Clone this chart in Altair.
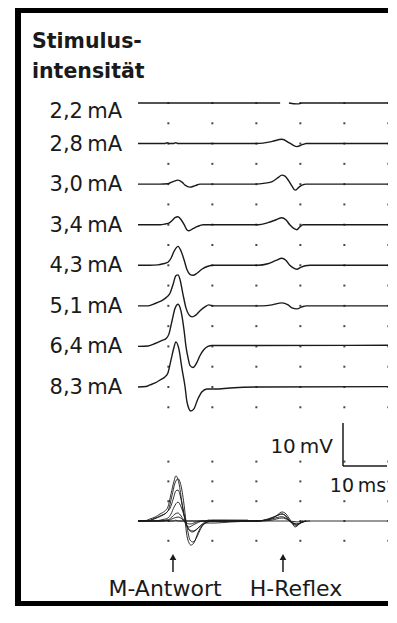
import altair as alt
import pandas as pd

# ---------------- data (ms, mV) ----------------
LABELS = ["2,2\u2009mA", "2,8\u2009mA", "3,0\u2009mA", "3,4\u2009mA",
          "4,3\u2009mA", "5,1\u2009mA", "6,4\u2009mA", "8,3\u2009mA"]

T_22 = [0, 32.3, 34.3, 36.1, 36.6, 37.3, 60]
V_22 = [0, 0, 0, -0.2, -0.2, 0, 0]
GAP_22 = (32.3, 34.3)

T_28 = [0, 6.1, 6.6, 7.0, 8.0, 8.6, 9.1, 27.0, 28.4, 30.5, 32.7, 34.5, 36.1, 37.5, 38.2, 60]
V_28 = [0, 0, 0.2, 0, 0, 0.2, 0, 0, 0.1, 0.5, 1.0, 0.1, -0.7, -0.2, 0, 0]

T_30 = [0, 5.0, 6.8, 8.0, 9.1, 10.0, 10.7, 11.8, 13.0, 14.1, 26.6, 28.9, 30.5, 31.8,
        32.7, 33.4, 34.3, 35.0, 35.7, 36.6, 37.3, 38.2, 60]
V_30 = [0, 0, 0.1, 0.6, 0.93, 0.47, -0.23, -0.7, -0.35, 0, 0, 0.23, 0.58, 1.5,
        2.1, 1.86, 0.7, -0.47, -1.4, -0.7, -0.23, 0, 0]

T_34 = [0, 5.0, 6.4, 7.0, 7.7, 8.4, 9.1, 9.8, 10.5, 11.1, 11.6, 12.5, 13.4, 14.8,
        27.3, 29.5, 31.4, 32.7, 33.6, 34.5, 35.5, 36.1, 36.8, 37.5, 60]
V_34 = [0, 0, 0.23, 0.35, 0.93, 1.63, 1.86, 1.16, 0, -1.16, -1.4, -0.93, -0.47, 0,
        0, 0.47, 1.16, 1.63, 1.16, 0, -0.93, -1.16, -0.47, 0, 0]

T_43 = [0, 2.7, 4.5, 5.7, 6.8, 7.5, 8.2, 9.1, 9.8, 10.5, 11.1, 11.8, 12.5, 13.4, 14.5,
        15.9, 17.0, 27.3, 29.5, 31.4, 32.7, 33.6, 34.5, 35.5, 36.1, 37.0, 38.0, 39.1, 60]
V_43 = [0, 0, 0.1, 0.35, 0.7, 1.63, 3.26, 4.4, 3.26, 1.16, -0.93, -2.1, -2.33, -1.86, -0.93,
        -0.23, 0, 0, 0.35, 1.16, 1.63, 1.16, 0, -0.7, -0.93, -0.47, -0.1, 0, 0]

T_51 = [0, 2.3, 3.4, 4.5, 5.7, 6.6, 7.3, 8.0, 8.6, 9.1, 9.5, 10.2, 10.9, 11.6, 12.3,
        13.2, 14.1, 15.2, 16.1, 17.0, 28.2, 30.5, 32.7, 34.1, 35.0, 36.1, 37.3, 38.2, 60]
V_51 = [0, 0, 0.35, 0.81, 1.4, 2.1, 3.0, 5.1, 7.0, 7.2, 6.3, 2.8, -0.47, -2.1, -2.56,
        -2.1, -1.16, -0.23, 0.23, 0, 0, 0.23, 0.7, 0.23, -0.47, -0.7, -0.23, 0, 0]

T_64 = [0, 2.3, 3.4, 4.5, 5.5, 6.4, 7.0, 7.7, 8.4, 9.1, 9.8, 10.5, 10.9, 11.4, 11.8,
        12.5, 13.4, 14.1, 15.0, 15.9, 16.8, 18.6, 25, 60]
V_64 = [0, 0.1, 0.47, 0.93, 1.4, 1.86, 2.8, 5.8, 8.8, 9.8, 8.1, 3.5, 0, -2.8, -4.4,
        -4.9, -3.7, -2.1, -0.7, 0, 0.23, 0.23, 0.2, 0.3]

T_83 = [0, 1.8, 2.7, 3.9, 5.0, 6.1, 6.8, 7.5, 8.2, 8.6, 9.3, 10.0, 10.7, 11.1, 11.6,
        12.0, 12.7, 13.6, 14.5, 15.7, 17.5, 20.9, 27.7, 60]
V_83 = [0, 0.1, 0.47, 0.93, 1.63, 2.33, 3.26, 6.3, 9.3, 10.5, 8.8, 4.2, 0, -3.3, -5.1,
        -5.6, -5.1, -2.8, -1.16, -0.47, -0.47, -0.23, 0, 0.1]

TRACES_T = [T_22, T_28, T_30, T_34, T_43, T_51, T_64, T_83]
TRACES_V = [V_22, V_28, V_30, V_34, V_43, V_51, V_64, V_83]

GRID_T = [6.9, 16.9, 26.9, 36.9, 46.9, 56.9]          # dot columns (ms)
ARROW_T = [7.95, 32.95]                               # M-Antwort, H-Reflex
ARROW_TEXT = ["M-Antwort", "H-Reflex"]
SCALE_MS = 10
SCALE_MV = 10

# ---------------- layout ----------------
W, H = 380, 598
PX_PER_MS, PX_PER_MV = 4.4, 4.3
X0_PX, Y0_PX = 130, 95          # chart position of t=0 and top trace baseline
SPACING_MV = 40.57 / PX_PER_MV  # distance between stacked traces
OVERLAY_MV = -(513 - Y0_PX) / PX_PER_MV
HALF = SPACING_MV / 2
BOTTOM_ROWS = [3, 2, 1, 0, -1]
BOTTOM_STEP = 19.8 / PX_PER_MV
SCALE_T0 = (335 - X0_PX) / PX_PER_MS
SCALE_Y0 = -(415 - Y0_PX) / PX_PER_MV
ARROW_TEXT_X = [157, 288]
LABEL_DY_PX = [9, 1, 1, 1, 1, 1, 1, 1]

xs = alt.Scale(domain=[-X0_PX / PX_PER_MS, (W - X0_PX) / PX_PER_MS], nice=False, zero=False)
ys = alt.Scale(domain=[-(H - Y0_PX) / PX_PER_MV, Y0_PX / PX_PER_MV], nice=False, zero=False)
FONT = "DejaVu Sans"
INK = "#1a1a1a"

rows = []
for i, (lab, ts, vs) in enumerate(zip(LABELS, TRACES_T, TRACES_V)):
    for t, v in zip(ts, vs):
        seg = 0
        if i == 0 and t >= GAP_22[1]:
            seg = 1
        rows.append(dict(key=f"s{i}_{seg}", t=t, Y=v - i * SPACING_MV, ov=0))
        if i == 0 or t <= 42:
            rows.append(dict(key=f"o{i}", t=t, Y=v + OVERLAY_MV, ov=1))
df = pd.DataFrame(rows)

X = alt.X("t:Q", scale=xs, axis=None)
Yc = alt.Y("Y:Q", scale=ys, axis=None)

stack = alt.Chart(df[df.ov == 0]).mark_line(
    interpolate="monotone", color=INK, strokeWidth=1.4, clip=True
).encode(x=X, y=Yc, detail="key:N")

overlay = alt.Chart(df[df.ov == 1]).mark_line(
    interpolate="monotone", color=INK, strokeWidth=0.9, clip=True
).encode(x=X, y=Yc, detail="key:N")

dots = [dict(t=t, Y=-k * HALF) for k in range(16) for t in GRID_T]
dots += [dict(t=t, Y=OVERLAY_MV + r * BOTTOM_STEP) for r in BOTTOM_ROWS for t in GRID_T]
grid = alt.Chart(pd.DataFrame(dots)).mark_square(size=4, color="#333", opacity=0.9, clip=True).encode(x=X, y=Yc)

lab_df = pd.DataFrame(dict(label=LABELS,
                           Y=[-i * SPACING_MV - d / PX_PER_MV for i, d in enumerate(LABEL_DY_PX)]))
labels = alt.Chart(lab_df).mark_text(
    align="right", baseline="middle", font=FONT, fontSize=21, color=INK
).encode(x=alt.value(114), y=Yc, text="label:N")

sb = pd.DataFrame(dict(t=[SCALE_T0, SCALE_T0], t2=[SCALE_T0, SCALE_T0 + SCALE_MS],
                       Y=[SCALE_Y0, SCALE_Y0 - SCALE_MV], Y2=[SCALE_Y0 - SCALE_MV, SCALE_Y0 - SCALE_MV]))
scalebar = alt.Chart(sb).mark_rule(color=INK, strokeWidth=1.5).encode(x=X, x2="t2:Q", y=Yc, y2="Y2:Q")

ar = pd.DataFrame(dict(t=ARROW_T, text=ARROW_TEXT))
shaft = alt.Chart(ar).mark_rule(color=INK, strokeWidth=1.5).encode(
    x=X, y=alt.value(549), y2=alt.value(564))
head = alt.Chart(ar).mark_point(shape="triangle-up", filled=True, size=45, color=INK, opacity=1).encode(
    x=X, y=alt.value(549))


def txt(s, x, y, size, align="left", weight="normal"):
    return alt.Chart(pd.DataFrame({"s": [s]})).mark_text(
        font=FONT, fontSize=size, fontWeight=weight, color=INK, align=align, baseline="alphabetic"
    ).encode(x=alt.value(x), y=alt.value(y), text="s:N")


def box(x, x2, y, y2):
    return alt.Chart(pd.DataFrame({"a": [0]})).mark_rect(color="#000").encode(
        x=alt.value(x), x2=alt.value(x2), y=alt.value(y), y2=alt.value(y2))


chart = alt.layer(
    box(7, W, 0, 5), box(7, 13, 0, H), box(7, W, H - 5, H),
    grid, stack, overlay, labels, scalebar, shaft, head,
    txt(ARROW_TEXT[0], ARROW_TEXT_X[0], 588, 22, align="center"),
    txt(ARROW_TEXT[1], ARROW_TEXT_X[1], 588, 22, align="center"),
    txt("Stimulus-", 24, 40, 20.5, weight="bold"),
    txt("intensität", 24, 70, 20.5, weight="bold"),
    txt("10\u2009mV", 325, 445, 20, align="right"),
    txt("10\u2009ms", 350, 484, 19, align="center"),
).properties(
    width=W, height=H, autosize=alt.AutoSizeParams(type="none"), padding=0, background="white"
).configure_view(stroke=None)

chart.save("out.html", embed_options={"renderer": "svg", "actions": False})
